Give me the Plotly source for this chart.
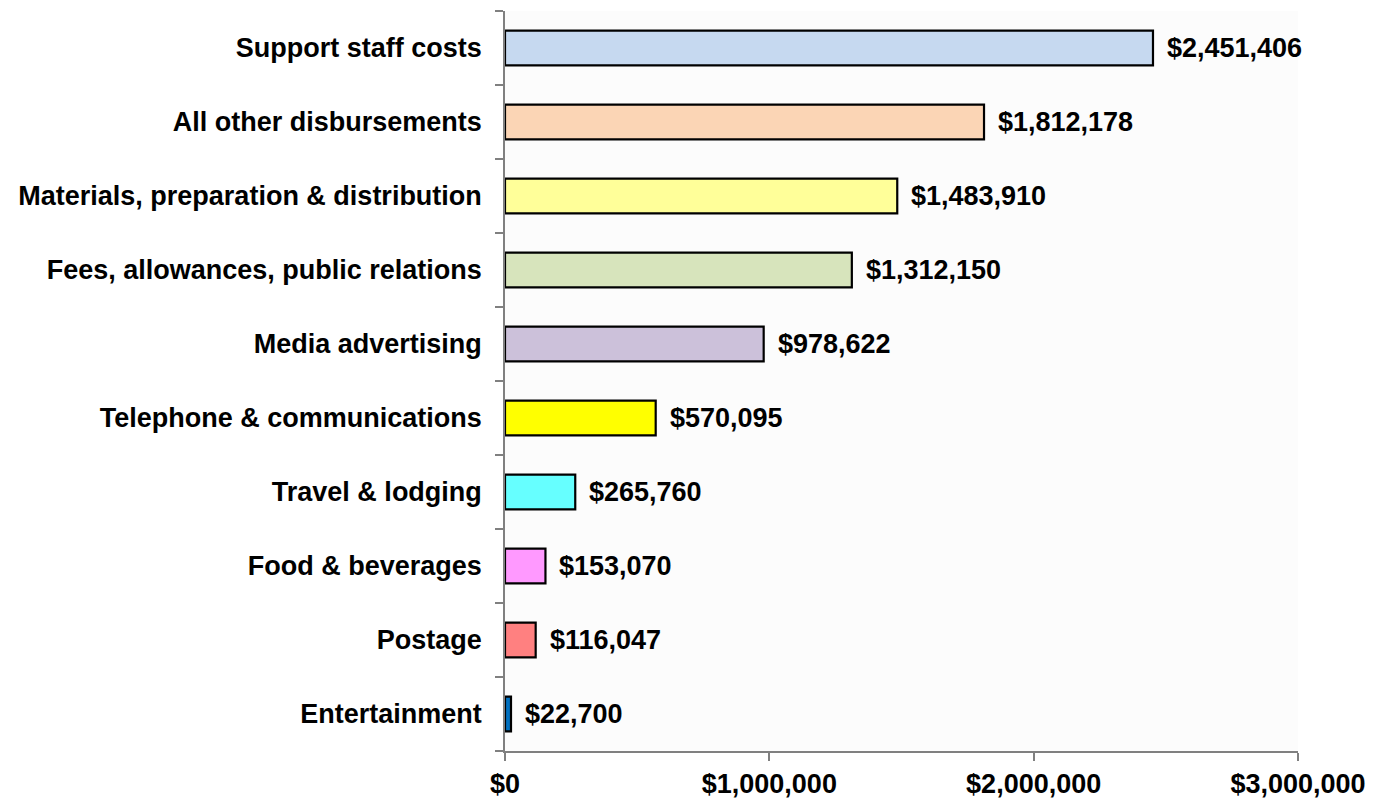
import plotly.graph_objects as go

categories = ["Entertainment", "Postage", "Food & beverages", "Travel & lodging",
              "Telephone & communications", "Media advertising",
              "Fees, allowances, public relations", "Materials, preparation & distribution",
              "All other disbursements", "Support staff costs"]
values = [22700, 116047, 153070, 265760, 570095, 978622, 1312150, 1483910, 1812178, 2451406]
colors = ["#0070C0", "#FF8080", "#FF99FF", "#66FFFF", "#FFFF00", "#CCC1DA",
          "#D7E4BC", "#FFFF99", "#FBD5B5", "#C6D9F0"]
tick_vals = [0, 1000000, 2000000, 3000000]
tick_text = ["$0", "$1,000,000", "$2,000,000", "$3,000,000"]

font = "Liberation Sans, Arial, sans-serif"
fs = 27

fig = go.Figure()
fig.add_trace(go.Bar(
    x=values, y=categories, orientation="h",
    marker=dict(color=colors, line=dict(color="black", width=2.2)),
    width=0.47, hoverinfo="x+y",
))

for c, v in zip(categories, values):
    fig.add_annotation(x=v, y=c, text=f"<b>${v:,}</b>", showarrow=False,
                       xanchor="left", yanchor="middle", xshift=12,
                       font=dict(family=font, size=fs, color="black"))

fig.update_layout(
    width=1375, height=790,
    margin=dict(l=497, r=85, t=3, b=47, autoexpand=False),
    paper_bgcolor="white",
    plot_bgcolor="#fcfcfc",
    showlegend=False,
    font=dict(family=font, size=fs, color="black"),
    bargap=0.5,
)
fig.update_xaxes(
    range=[0, 3000000], tickvals=tick_vals, ticktext=[f"<b>{t}</b>" for t in tick_text],
    showgrid=False, zeroline=False, showline=True, linecolor="#808080", linewidth=1.5,
    ticks="outside", ticklen=8, tickcolor="#808080", tickwidth=1.5, automargin=False,
    tickfont=dict(family=font, size=fs, color="black"), ticklabelstandoff=0,
)
fig.update_yaxes(
    categoryorder="array", categoryarray=categories,
    ticktext=[f"<b>{c}</b>" for c in categories], tickvals=categories,
    showgrid=False, zeroline=False, showline=True, linecolor="#808080", linewidth=1.5,
    ticks="outside", ticklen=8, tickcolor="#808080", tickwidth=1.5, tickson="boundaries",
    tickfont=dict(family=font, size=fs, color="black"), ticklabelstandoff=16, automargin=False,
)

fig.write_html("out.html")
